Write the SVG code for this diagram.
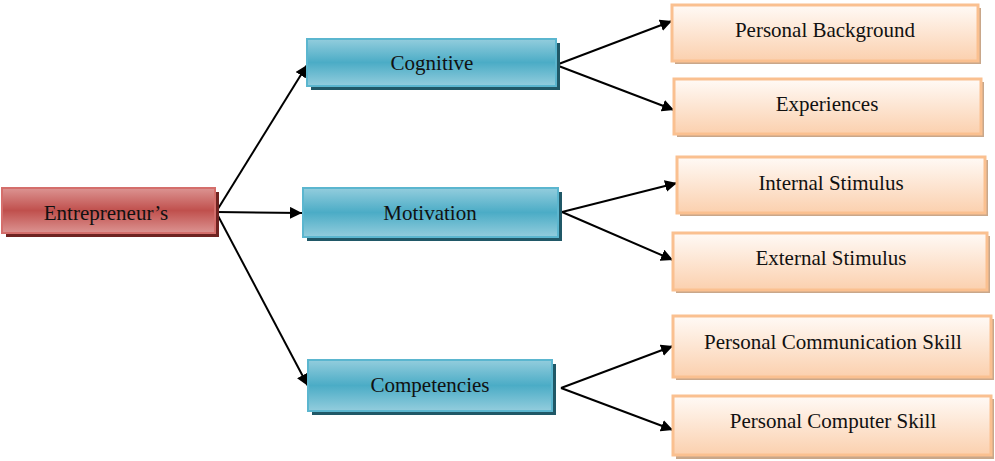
<svg xmlns="http://www.w3.org/2000/svg" width="995" height="461" viewBox="0 0 995 461">
<defs>
<linearGradient id="gRed" x1="0" y1="0" x2="0" y2="1">
<stop offset="0" stop-color="#dc9492"/><stop offset="0.5" stop-color="#c0504d"/><stop offset="1" stop-color="#dc9492"/>
</linearGradient>
<linearGradient id="gBlue" x1="0" y1="0" x2="0" y2="1">
<stop offset="0" stop-color="#93cddd"/><stop offset="0.5" stop-color="#4bacc6"/><stop offset="1" stop-color="#93cddd"/>
</linearGradient>
<linearGradient id="gOr" x1="0" y1="0" x2="0" y2="1">
<stop offset="0" stop-color="#fffaf6"/><stop offset="1" stop-color="#fbd0ae"/>
</linearGradient>
<marker id="ah" viewBox="0 0 12 12" refX="12" refY="6" markerWidth="12" markerHeight="12" markerUnits="userSpaceOnUse" orient="auto">
<path d="M0,0 L12,6 L0,12 z" fill="#000"/>
</marker>
</defs>
<style>
.red{fill:url(#gRed);stroke:#d46e6b;stroke-width:2}
.redS{fill:#6e2321}
.blue{fill:url(#gBlue);stroke:#5bb6cf;stroke-width:2}
.blueS{fill:#205867}
.or{fill:url(#gOr);stroke:#fac090;stroke-width:3}
.orS{fill:#c9a78a}
.c{stroke:#000;stroke-width:2;fill:none;marker-end:url(#ah)}
</style>
<g id="connectors">
<line class="c" x1="216" y1="212" x2="307" y2="65"/>
<line class="c" x1="216" y1="212" x2="302" y2="213"/>
<line class="c" x1="216" y1="212" x2="308" y2="386"/>
<line class="c" x1="556" y1="65" x2="672" y2="21"/>
<line class="c" x1="556" y1="65" x2="674" y2="110"/>
<line class="c" x1="562" y1="212" x2="677" y2="183"/>
<line class="c" x1="562" y1="212" x2="673" y2="260"/>
<line class="c" x1="561" y1="388" x2="673" y2="346"/>
<line class="c" x1="561" y1="388" x2="673" y2="430"/>
</g>
<g font-family="'Liberation Serif', 'Times New Roman', serif" font-size="21" fill="#111" text-anchor="middle">
<g id="entrepreneurs">
<rect class="redS" x="6" y="192" width="213" height="45"/>
<rect class="red" x="2" y="188" width="213" height="45"/>
<text x="106" y="220">Entrepreneur’s</text>
</g>
<g id="cognitive">
<rect class="blueS" x="311" y="43" width="249" height="47"/>
<rect class="blue" x="307" y="39" width="249" height="47"/>
<text x="432" y="70">Cognitive</text>
</g>
<g id="motivation">
<rect class="blueS" x="307" y="192" width="255" height="49"/>
<rect class="blue" x="303" y="188" width="255" height="49"/>
<text x="430" y="220">Motivation</text>
</g>
<g id="competencies">
<rect class="blueS" x="312" y="364" width="244" height="51"/>
<rect class="blue" x="308" y="360" width="244" height="51"/>
<text x="430" y="392">Competencies</text>
</g>
<g id="personal-background">
<rect class="orS" x="675" y="8" width="306" height="56"/>
<rect class="or" x="672" y="5" width="306" height="56"/>
<text x="825" y="37">Personal Background</text>
</g>
<g id="experiences">
<rect class="orS" x="677" y="82" width="307" height="55"/>
<rect class="or" x="674" y="79" width="307" height="55"/>
<text x="827" y="111">Experiences</text>
</g>
<g id="internal-stimulus">
<rect class="orS" x="680" y="160" width="308" height="56"/>
<rect class="or" x="677" y="157" width="308" height="56"/>
<text x="831" y="190">Internal Stimulus</text>
</g>
<g id="external-stimulus">
<rect class="orS" x="676" y="236" width="314" height="57"/>
<rect class="or" x="673" y="233" width="314" height="57"/>
<text x="831" y="265">External Stimulus</text>
</g>
<g id="personal-communication-skill">
<rect class="orS" x="676" y="319" width="318" height="61"/>
<rect class="or" x="673" y="316" width="318" height="61"/>
<text x="833" y="349">Personal Communication Skill</text>
</g>
<g id="personal-computer-skill">
<rect class="orS" x="676" y="399" width="318" height="60"/>
<rect class="or" x="673" y="396" width="318" height="59"/>
<text x="833" y="428">Personal Computer Skill</text>
</g>
</g>
</svg>
